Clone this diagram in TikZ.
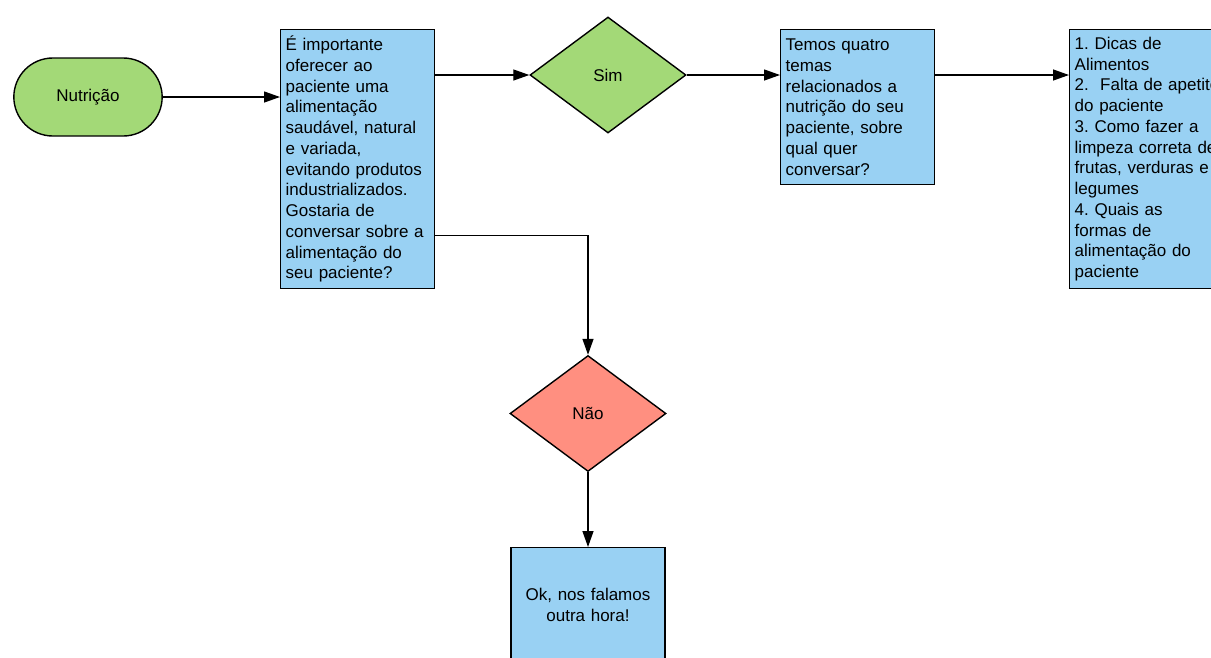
\documentclass[tikz,border=0pt]{standalone}
\usepackage{fontspec}
\setmainfont{Liberation Sans}
\usepackage{xcolor}
\usetikzlibrary{
    positioning,
    arrows.meta,
    shapes.geometric,
    shapes.misc,
}
\frenchspacing
\definecolor{nutgreen}{HTML}{A3D977}
\definecolor{nutblue}{HTML}{99D1F3}
\definecolor{nutred}{HTML}{FF8F80}
\tikzset{
    % Basic node styles
    terminal/.style={rounded rectangle, draw, line width=1.4pt, fill=nutgreen,
                     minimum width=155pt, minimum height=78pt, font=\fontsize{17}{20.75}\selectfont},
    decision/.style={diamond, draw, line width=1.4pt, minimum width=156pt,
                     minimum height=116pt, inner sep=0pt, font=\fontsize{17}{20.75}\selectfont},
    yes decision/.style={decision, fill=nutgreen},
    no decision/.style={decision, fill=nutred},
    % Block styles
    textbox/.style={rectangle, draw, line width=1.4pt, fill=nutblue, align=left,
                    text width=144pt, inner xsep=5pt, inner ysep=4pt,
                    font=\fontsize{17}{20.75}\selectfont},
    % Arrow styles
    arrow/.style={-{Triangle[length=16pt, width=11pt]}, line width=1.3pt},
}

\begin{document}
\begin{tikzpicture}[x=1pt, y=-1pt]
    \useasboundingbox (0,0) rectangle (1211,657);
    \clip (0,0) rectangle (1211,657);

    % Start
    \node[terminal] (nutri) at (88,97) {Nutrição};

    % Question
    \node[textbox, minimum height=259pt, anchor=north west] (pergunta) at (280,29)
        {É importante\\oferecer ao\\paciente uma\\alimentação\\saudável, natural\\e variada,\\evitando produtos\\industrializados.\\Gostaria de\\conversar sobre a\\alimentação do\\seu paciente?};

    % Answers
    \node[yes decision] (sim) at (608,75) {Sim};
    \node[no decision] (nao) at (588,413.5) {Não};

    % Topics
    \node[textbox, minimum height=155pt, anchor=north west] (temas) at (780,29)
        {Temos quatro\\temas\\relacionados a\\nutrição do seu\\paciente, sobre\\qual quer\\conversar?};
    \node[textbox, minimum height=259pt, anchor=north west] (lista) at (1069,29)
        {1. Dicas de\\Alimentos\\\mbox{2.\ \ Falta de apetite}\\do paciente\\3. Como fazer a\\\mbox{limpeza correta de}\\\mbox{frutas, verduras e}\\legumes\\4. Quais as\\formas de\\alimentação do\\paciente};

    % End
    \node[textbox, align=center, minimum height=115pt, anchor=north] (fim) at (588,547)
        {Ok, nos falamos\\outra hora!};

    % Connectors
    \draw[arrow] (nutri.east) -- (nutri.east -| pergunta.west);
    \draw[arrow] (pergunta.east |- sim.west) -- (sim.west);
    \draw[arrow] (sim.east) -- (sim.east -| temas.west);
    \draw[arrow] (temas.east |- sim.east) -- (lista.west |- sim.east);
    \draw[arrow] ([yshift=-76.5pt]pergunta.east) -| (nao.north);
    \draw[arrow] (nao.south) -- (fim.north);
\end{tikzpicture}
\end{document}
